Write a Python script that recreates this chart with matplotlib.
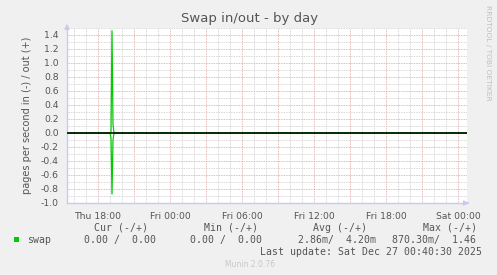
import numpy as np
import pandas as pd
import matplotlib
matplotlib.use("Agg")
import matplotlib.pyplot as plt
import matplotlib.dates as mdates

# Data (5 minute samples, zero elsewhere)
times = ["2025-12-25 15:25", "2025-12-25 19:00", "2025-12-25 19:05", "2025-12-25 19:10",
         "2025-12-25 19:15", "2025-12-25 19:20", "2025-12-27 00:45"]
swap_out = [0, 0, 0, 1.46, 0.12, 0, 0]
swap_in = [0, 0, -0.07, -0.87, -0.10, 0, 0]

t = pd.to_datetime(times)
t_start = pd.Timestamp("2025-12-25 15:25")
t_end = pd.Timestamp("2025-12-27 00:45")

yticks = [-1.0, -0.8, -0.6, -0.4, -0.2, 0.0, 0.2, 0.4, 0.6, 0.8, 1.0, 1.2, 1.4]
xtick_times = pd.date_range("2025-12-25 18:00", "2025-12-27 00:00", freq="6h")
xtick_labels = ["Thu 18:00", "Fri 00:00", "Fri 06:00", "Fri 12:00", "Fri 18:00", "Sat 00:00"]

W, H = 497, 275
bg = "#f0f0f0"
txt = "#555555"
fig = plt.figure(figsize=(W / 100, H / 100), dpi=100, facecolor=bg)
ax = fig.add_axes([67 / W, 1 - 203 / H, 400 / W, 175 / H], facecolor="white")

ax.set_xlim(t_start, t_end)
ax.set_ylim(-1.0, 1.5)

# grid: minor grey, major red
ax.xaxis.set_major_locator(mdates.HourLocator(byhour=range(0, 24, 3)))
ax.xaxis.set_minor_locator(mdates.HourLocator())
ax.set_yticks(yticks)
ax.set_yticks(np.arange(-1.0, 1.51, 0.1), minor=True)
ax.grid(which="minor", color="#cccccc", linestyle=(0, (1, 1)), linewidth=0.6)
ax.grid(which="major", color="#e0a0a0", linestyle=(0, (1, 1)), linewidth=0.6)
ax.set_axisbelow(True)

ax.set_xticklabels([])
for xt, lab in zip(xtick_times, xtick_labels):
    ax.text(xt, -0.05, lab, transform=ax.get_xaxis_transform(), ha="center", va="top",
            fontsize=6.7, color=txt)
ax.tick_params(axis="x", which="both", length=0)
ax.tick_params(axis="y", which="major", length=0, labelsize=6.7, labelcolor=txt, pad=6)
ax.tick_params(axis="y", which="minor", length=0)
ax.set_yticklabels(["%.1f" % v for v in yticks])

for s in ["top", "right"]:
    ax.spines[s].set_visible(False)
for s in ["left", "bottom"]:
    ax.spines[s].set_color("#c8c8f0")
    ax.spines[s].set_linewidth(1)

# axis arrows
ax.annotate("", xy=(0, 1.04), xytext=(0, 0.98), xycoords="axes fraction",
            arrowprops=dict(arrowstyle="-|>", color="#c8c8f0", lw=1, mutation_scale=7),
            annotation_clip=False)
ax.annotate("", xy=(1.012, 0), xytext=(0.995, 0), xycoords="axes fraction",
            arrowprops=dict(arrowstyle="-|>", color="#c8c8f0", lw=1, mutation_scale=7),
            annotation_clip=False)

ax.plot(t, swap_out, color="#00cc00", linewidth=0.9)
ax.plot(t, swap_in, color="#00cc00", linewidth=0.9)
ax.axhline(0, color="black", linewidth=1.1, zorder=5)

ax.set_ylabel("pages per second in (-) / out (+)", fontsize=7, color=txt, labelpad=6)

fig.text(250 / W, 1 - 22 / H, "Swap in/out - by day", ha="center", va="baseline",
         fontsize=9.5, color=txt)
fig.text(488 / W, 1 - 53 / H, "RRDTOOL / TOBI OETIKER", rotation=270, ha="center",
         va="center", fontsize=5.4, color="#c0c0c0")

# legend area
mono = dict(family="DejaVu Sans Mono", fontsize=7.1, color=txt, va="baseline")
def put(x, y, s, ha="left", **kw):
    d = dict(mono)
    d.update(kw)
    fig.text(x / W, 1 - y / H, s, ha=ha, **d)

put(94, 231, "Cur (-/+)")
put(204, 231, "Min (-/+)")
put(313, 231, "Avg (-/+)")
put(423, 231, "Max (-/+)")
fig.patches.append(plt.Rectangle((14 / W, 1 - 242 / H), 5 / W, 5 / H, transform=fig.transFigure,
                                 facecolor="#00cc00", edgecolor="none"))
put(27, 243, "swap")
put(84, 243, "0.00 /  0.00")
put(190, 243, "0.00 /  0.00")
put(298, 243, "2.86m/  4.20m")
put(392, 243, "870.30m/  1.46")
put(482, 255, "Last update: Sat Dec 27 00:40:30 2025", ha="right")
fig.text(250 / W, 1 - 267 / H, "Munin 2.0.76", ha="center", va="baseline",
         fontsize=5.5, color="#c8c8c8")

fig.savefig("out.png", dpi=100, facecolor=bg)
